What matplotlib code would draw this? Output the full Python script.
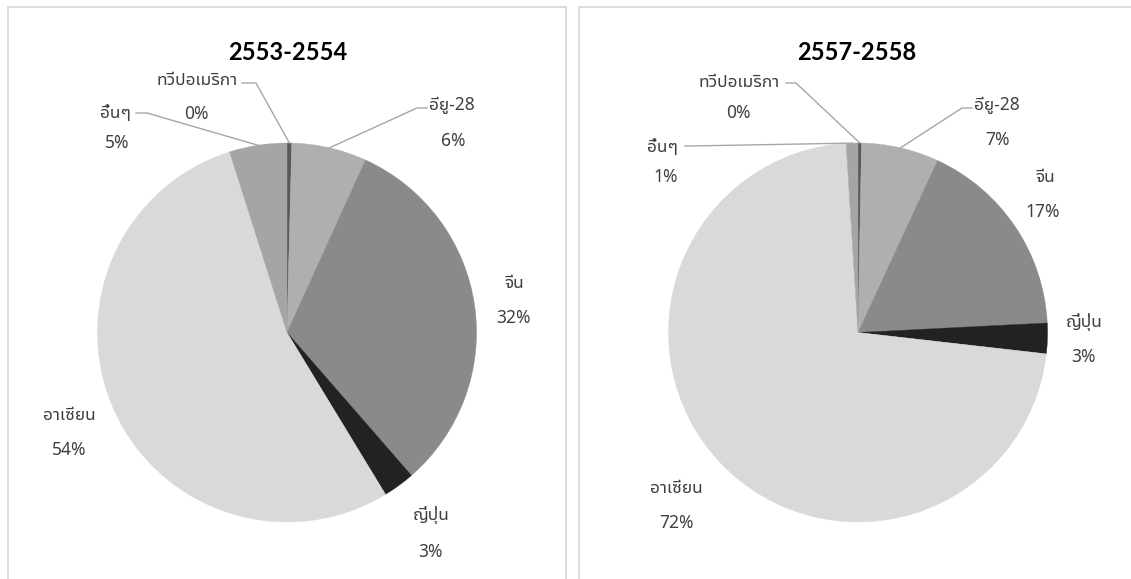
import matplotlib
matplotlib.use("Agg")
import matplotlib.pyplot as plt
from matplotlib.patches import Rectangle
import numpy as np

plt.rcParams['font.family'] = ['Noto Sans Thai UI', 'Noto Sans', 'DejaVu Sans']

# share of trade by partner, percent
categories = ["ทวีปอเมริกา", "อียู-28", "จีน", "ญี่ปุ่น", "อาเซียน", "อื่นๆ"]
share_2553 = [0.4, 6.4, 31.8, 2.7, 53.8, 4.9]
share_2557 = [0.3, 6.6, 17.3, 2.6, 72.2, 1.0]
titles = ["2553-2554", "2557-2558"]
colors = ["#595959", "#afafaf", "#8a8a8a", "#222222", "#d9d9d9", "#a5a5a5"]

W, H = 1131, 579
fig = plt.figure(figsize=(W / 100, H / 100), dpi=100)
ax = fig.add_axes([0, 0, 1, 1])


def flip(p):
    # pixel coords (y down) -> axes data coords (y up)
    return p[0], H - p[1]


# layout of each panel in pixels
panels = [
    dict(values=share_2553, title=titles[0], box=(8, 7, 558), center=(287, 332.5),
         title_xy=(288, 53),
         names=[(197, 80), (452, 105), (515, 283), (431, 515), (69, 415), (116, 113)],
         pcts=[(196, 114), (453, 141), (513, 318), (430, 552), (69, 450), (117, 143)],
         leaders={0: [(242, 83), (256, 83)], 1: [(427, 108), (417, 108)],
                  5: [(136, 113), (147, 113)]}),
    dict(values=share_2557, title=titles[1], box=(579, 7, 600), center=(858, 332.5),
         title_xy=(857, 53),
         names=[(739, 82), (997, 105), (1046, 177), (1084, 322), (676, 488), (663, 147)],
         pcts=[(738, 113), (997, 140), (1043, 212), (1083, 357), (677, 523), (666, 177)],
         leaders={0: [(786, 83), (796, 83)], 1: [(972, 108), (962, 108)],
                  5: [(685, 146), (690, 146)]}),
]
radius = 189.5

for p in panels:
    x0, y0, w = p["box"]
    ax.add_patch(Rectangle((x0, -10), w, H - y0 + 10, fill=False,
                           edgecolor="#d9d9d9", lw=1.3, zorder=0))

    wedges, _ = ax.pie(p["values"], colors=colors, startangle=90, counterclock=False,
                       radius=radius, center=flip(p["center"]),
                       wedgeprops=dict(linewidth=0.3, antialiased=True))
    for wd, c in zip(wedges, colors):
        wd.set_edgecolor(c)

    ax.text(*flip(p["title_xy"]), p["title"], ha="center", va="center",
            fontsize=17, fontweight="bold", color="black",
            family=['Lato', 'DejaVu Sans'])

    total = sum(p["values"])
    for i, (name, v) in enumerate(zip(categories, p["values"])):
        ax.text(*flip(p["names"][i]), name, ha="center", va="center",
                fontsize=12.5, color="#404040")
        ax.text(*flip(p["pcts"][i]), f"{v / total * 100:.0f}%", ha="center",
                va="center", fontsize=12.5, color="#404040")

    # leader lines run from the label to the middle of the wedge's arc
    for i, pts in p["leaders"].items():
        wd = wedges[i]
        mid = np.deg2rad((wd.theta1 + wd.theta2) / 2)
        end = (wd.center[0] + wd.r * np.cos(mid), wd.center[1] + wd.r * np.sin(mid))
        xs = [flip(q)[0] for q in pts] + [end[0]]
        ys = [flip(q)[1] for q in pts] + [end[1]]
        ax.plot(xs, ys, color="#a6a6a6", lw=1.0, zorder=3)

ax.set_xlim(0, W)
ax.set_ylim(0, H)
ax.set_aspect("equal")
ax.axis("off")

fig.savefig("out.png", dpi=100, facecolor="white")
